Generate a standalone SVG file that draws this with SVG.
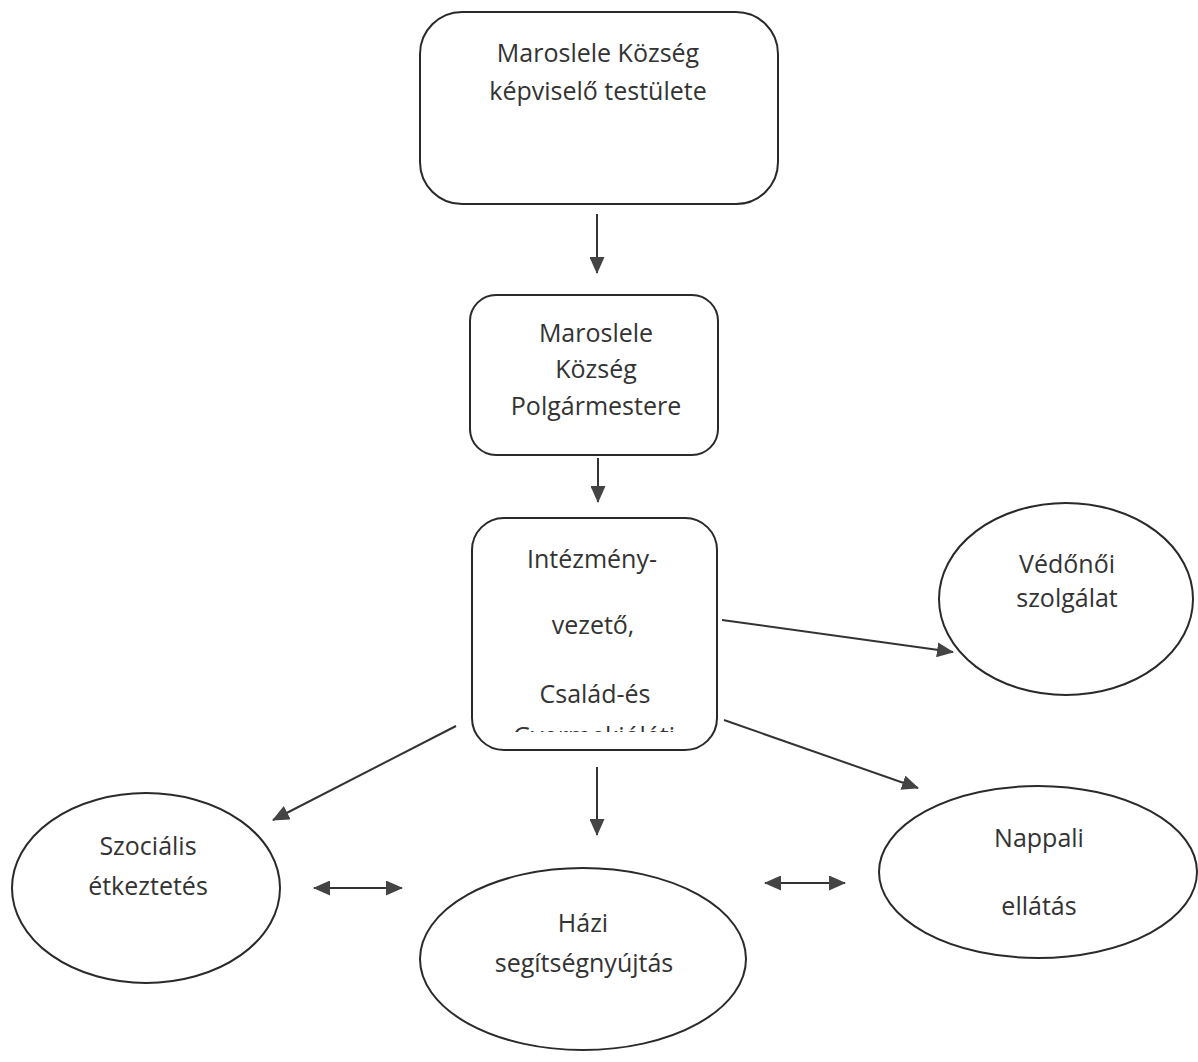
<svg xmlns="http://www.w3.org/2000/svg" width="1198" height="1062" viewBox="0 0 1198 1062">
<defs>
<style>
.n{fill:#fff;stroke:#2a2a2a;stroke-width:2}
.t{font-family:"Open Sans","Liberation Sans",sans-serif;font-size:25px;fill:#333;text-anchor:middle}
.c{stroke:#333;stroke-width:2;fill:none}
</style>
<marker id="ah" markerUnits="userSpaceOnUse" markerWidth="17" markerHeight="15" refX="16" refY="7.5" orient="auto">
<path d="M0,0 L17,7.5 L0,15 Z" fill="#444"/>
</marker>
<marker id="as" markerUnits="userSpaceOnUse" markerWidth="17" markerHeight="15" refX="1" refY="7.5" orient="auto">
<path d="M17,0 L0,7.5 L17,15 Z" fill="#444"/>
</marker>
<clipPath id="clip3"><rect x="472" y="518" width="245" height="214"/></clipPath>
</defs>
<rect width="1198" height="1062" fill="#fff"/>
<g id="connectors">
<line class="c" x1="597" y1="214" x2="597" y2="273" marker-end="url(#ah)"/>
<line class="c" x1="598" y1="458" x2="598" y2="502" marker-end="url(#ah)"/>
<line class="c" x1="722" y1="620" x2="953" y2="652" marker-end="url(#ah)"/>
<line class="c" x1="456" y1="726" x2="273" y2="820" marker-end="url(#ah)"/>
<line class="c" x1="597" y1="767" x2="597" y2="835" marker-end="url(#ah)"/>
<line class="c" x1="724" y1="720" x2="918" y2="788" marker-end="url(#ah)"/>
<line class="c" x1="314" y1="888" x2="402" y2="888" marker-start="url(#as)" marker-end="url(#ah)"/>
<line class="c" x1="765" y1="883" x2="845" y2="883" marker-start="url(#as)" marker-end="url(#ah)"/>
</g>
<g id="kepviselo">
<rect class="n" x="420" y="12" width="358" height="192" rx="42" ry="42"/>
<text class="t" x="598" y="62">Maroslele Község</text>
<text class="t" x="598" y="100">képviselő testülete</text>
</g>
<g id="polgarmester">
<rect class="n" x="470" y="295" width="248" height="160" rx="26" ry="26"/>
<text class="t" x="596" y="342">Maroslele</text>
<text class="t" x="596" y="378">Község</text>
<text class="t" x="596" y="415">Polgármestere</text>
</g>
<g id="intezmenyvezeto">
<rect class="n" x="472" y="518" width="245" height="232" rx="32" ry="32"/>
<text class="t" x="592" y="568">Intézmény-</text>
<text class="t" x="593" y="634">vezető,</text>
<text class="t" x="595" y="703">Család-és</text>
<text class="t" x="594" y="745" clip-path="url(#clip3)">Gyermekjóléti</text>
</g>
<g id="vedonoi">
<ellipse class="n" cx="1066" cy="599" rx="127" ry="96"/>
<text class="t" x="1067" y="573">Védőnői</text>
<text class="t" x="1067" y="607">szolgálat</text>
</g>
<g id="szocialis">
<ellipse class="n" cx="146" cy="888" rx="134" ry="95"/>
<text class="t" x="148" y="855">Szociális</text>
<text class="t" x="148" y="895">étkeztetés</text>
</g>
<g id="hazi">
<ellipse class="n" cx="583" cy="959" rx="163" ry="91"/>
<text class="t" x="583" y="932">Házi</text>
<text class="t" x="584" y="972">segítségnyújtás</text>
</g>
<g id="nappali">
<ellipse class="n" cx="1038" cy="872" rx="159" ry="86"/>
<text class="t" x="1039" y="847">Nappali</text>
<text class="t" x="1039" y="915">ellátás</text>
</g>
</svg>
